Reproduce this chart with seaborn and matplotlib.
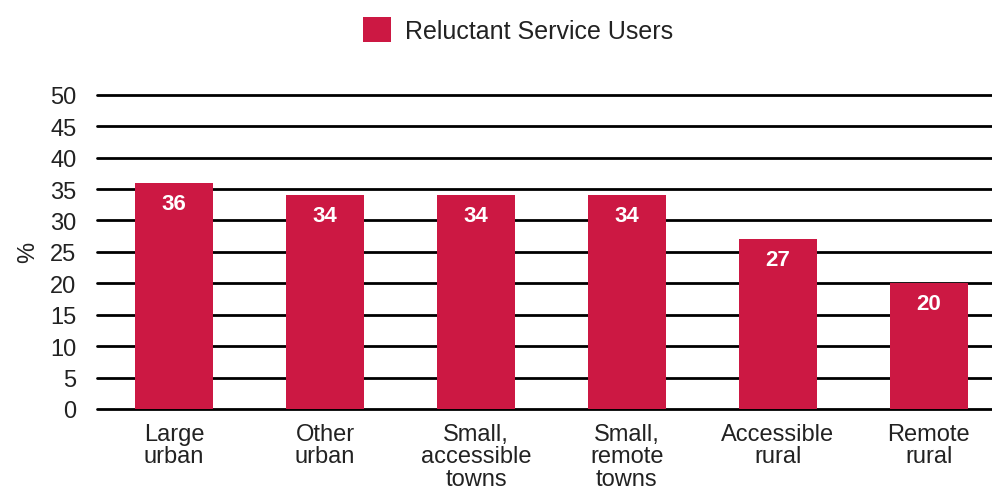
import matplotlib
matplotlib.use("Agg")
import matplotlib.pyplot as plt
import seaborn as sns
import pandas as pd

categories = ["Large\nurban", "Other\nurban", "Small,\naccessible\ntowns",
              "Small,\nremote\ntowns", "Accessible\nrural", "Remote\nrural"]
values = [36, 34, 34, 34, 27, 20]
series_name = "Reluctant Service Users"
y_ticks = [0, 5, 10, 15, 20, 25, 30, 35, 40, 45, 50]

sns.set_theme(style="white")
plt.rcParams['font.family'] = ['Liberation Sans', 'DejaVu Sans']

df = pd.DataFrame({"cat": categories, "val": values, "series": series_name})

fig = plt.figure(figsize=(9.92, 4.89), dpi=100)
ax = fig.add_axes([0.098, 0.1616, 0.902, 0.6426])
color = "#CC1843"
sns.barplot(data=df, x="cat", y="val", hue="series", palette=[color],
            width=0.517, ax=ax, saturation=1, legend=False, zorder=3,
            linewidth=0, edgecolor="none")

ax.set_ylim(0, 50)
ax.set_yticks(y_ticks)
ax.set_xlim(-0.51, 5.42)
for t in y_ticks:
    ax.axhline(t, color="black", lw=2, zorder=1, clip_on=False)
for s in ax.spines.values():
    s.set_visible(False)
ax.tick_params(axis="both", length=0, colors="#222222")
ax.tick_params(axis="x", pad=10, labelsize=17)
ax.tick_params(axis="y", pad=15, labelsize=17)
for lbl in ax.get_yticklabels():
    lbl.set_horizontalalignment("right")
for lbl in ax.get_xticklabels():
    lbl.set_linespacing(1.02)
ax.set_xlabel("")
ax.set_ylabel("%", fontsize=17, color="#222222", labelpad=8)

for p in ax.patches:
    h = p.get_height()
    if h > 0:
        ax.text(p.get_x() + p.get_width() / 2, h - 1.6, f"{h:.0f}",
                ha="center", va="top", color="white", fontsize=16,
                fontweight="bold", zorder=4)

from matplotlib.patches import Patch
fig.legend(handles=[Patch(facecolor=color, edgecolor="none", label=series_name)],
           loc="center", bbox_to_anchor=(0.522, 0.937), frameon=False,
           fontsize=18, handlelength=1.15, handleheight=1.15, handletextpad=0.55)
for txt in fig.legends[0].get_texts():
    txt.set_color("#222222")

fig.savefig("out.png", dpi=100)
